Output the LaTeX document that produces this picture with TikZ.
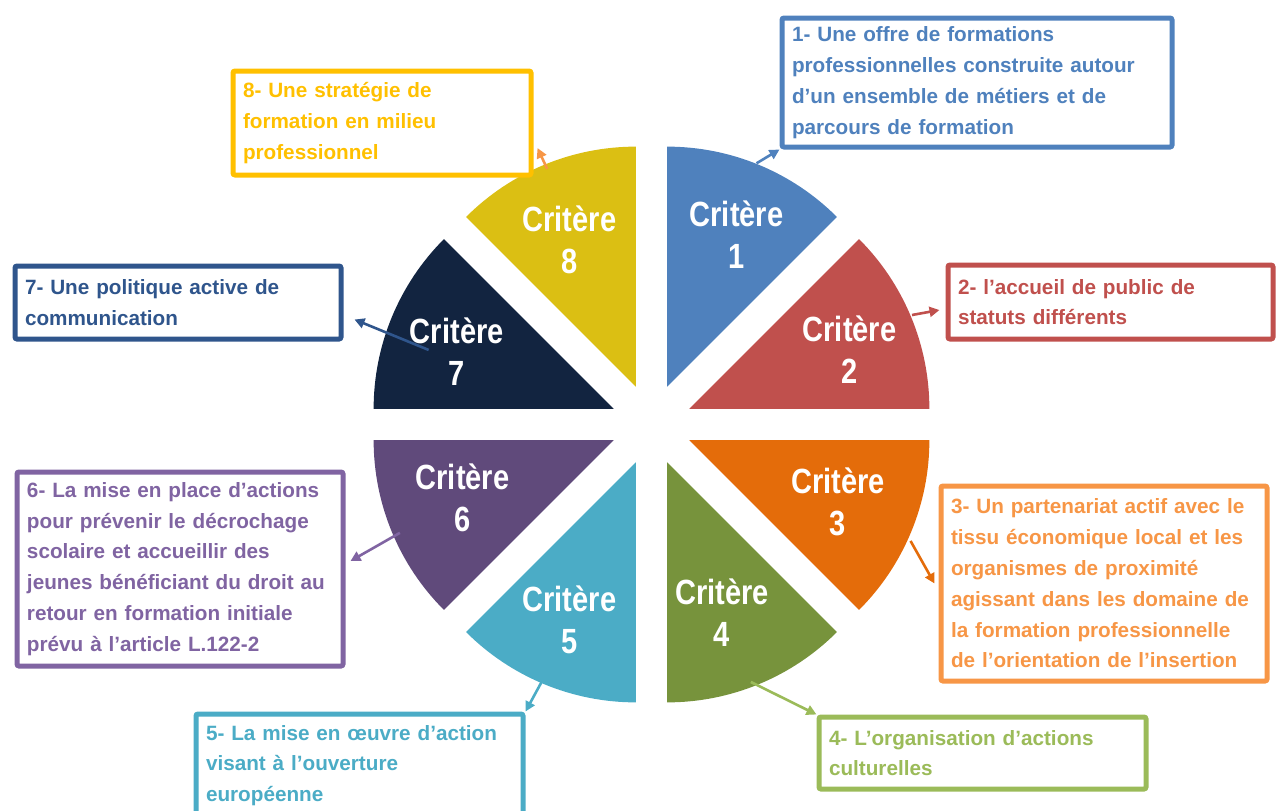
\documentclass[tikz,border=0pt]{standalone}
\usepackage{fontspec}
\setmainfont{Liberation Sans}
\newfontfamily\critfont[FakeStretch=0.83]{Liberation Sans}
\usetikzlibrary{calc,arrows.meta}
\definecolor{w1}{HTML}{4F81BD}
\definecolor{w2}{HTML}{C0504D}
\definecolor{w3}{HTML}{E46C0A}
\definecolor{w4}{HTML}{77933C}
\definecolor{w5}{HTML}{4BACC6}
\definecolor{w6}{HTML}{604A7B}
\definecolor{w7}{HTML}{122440}
\definecolor{w8}{HTML}{DBBF13}
\definecolor{k1}{HTML}{4F81BD}
\definecolor{k2}{HTML}{C0504D}
\definecolor{k3}{HTML}{F79646}
\definecolor{k4}{HTML}{9BBB59}
\definecolor{k5}{HTML}{4BACC6}
\definecolor{k6}{HTML}{8064A2}
\definecolor{k7}{HTML}{2F558C}
\definecolor{k8}{HTML}{FFC000}
\tikzset{
  crit/.style={text=white, font=\critfont\bfseries\fontsize{35}{42}\selectfont, align=center, inner sep=0pt, anchor=base},
  box/.style={draw=#1, text=#1, line width=5pt, rounded corners=2pt, fill=white,
    font=\bfseries\fontsize{20.7}{30.8}\selectfont, align=left, anchor=north west,
    inner xsep=10pt, inner ysep=0pt},
  arr/.style={draw=#1, line width=2.6pt, -{Triangle[length=10pt,width=10pt]}}
}
\begin{document}
\begin{tikzpicture}[x=1pt,y=-1pt]
\useasboundingbox (0,0) rectangle (1277,811);
\coordinate (C) at (651.5,424.5);
% wedges (image angles, clockwise on the page)
\foreach \a/\col in {-90/w1,-45/w2,0/w3,45/w4,90/w5,135/w6,180/w7,225/w8}{
  \pgfmathsetmacro\m{\a+22.5}
  \pgfmathsetmacro\e{\a+45}
  \fill[\col] ($(C)+(\m:41)$) -- ++(\a:240) arc[start angle=\a, end angle=\e, radius=240] -- cycle;
}
% labels (anchor = baseline of the last line)
\node[crit] (l1) at (736.5,268.3) {Critère\\1};
\node[crit] (l2) at (849.5,383.3) {Critère\\2};
\node[crit] (l3) at (838,535) {Critère\\3};
\node[crit] (l4) at (722,646.7) {Critère\\4};
\node[crit] (l5) at (569.4,653.3) {Critère\\5};
\node[crit] (l6) at (462.5,531.7) {Critère\\6};
\node[crit] (l7) at (456.8,385) {Critère\\7};
\node[crit] (l8) at (569.4,273) {Critère\\8};
% boxes
\node[box=k1, text width=370pt, minimum height=129pt] (b1) at (779.5,15.5)
  {1- Une offre de formations\\professionnelles construite autour\\d’un ensemble de métiers et de\\parcours de formation};
\node[box=k8, text width=278pt, minimum height=104pt] (b8) at (230.5,68.5)
  {8- Une stratégie de\\formation en milieu\\professionnel};
\node[box=k7, text width=306pt, minimum height=73pt] (b7) at (12.5,263.5)
  {7- Une politique active de\\communication};
\node[box=k2, text width=305pt, minimum height=74pt] (b2) at (945.5,262.5)
  {2- l’accueil de public de\\statuts différents};
\node[box=k6, text width=306pt, minimum height=194pt] (b6) at (14.5,469.5)
  {6- La mise en place d’actions\\pour prévenir le décrochage\\scolaire et accueillir des\\jeunes bénéficiant du droit au\\retour en formation initiale\\prévu à l’article L.122-2};
\node[box=k3, text width=306pt, minimum height=195pt] (b3) at (938.5,483.5)
  {3- Un partenariat actif avec le\\tissu économique local et les\\organismes de proximité\\agissant dans les domaine de\\la formation professionnelle\\de l’orientation de l’insertion};
\node[box=k4, text width=307pt, minimum height=72pt] (b4) at (816.5,714.5)
  {4- L’organisation d’actions\\culturelles};
\node[box=k5, text width=307pt, minimum height=103pt] (b5) at (193.5,711.5)
  {5- La mise en œuvre d’action\\visant à l’ouverture\\européenne};
% arrow start points on the wedges
\coordinate (a1) at ($(C)+(-68.1:281.5)$);
\coordinate (a2) at ($(C)+(-22.8:282.6)$);
\coordinate (a3) at ($(C)+(24.2:284)$);
\coordinate (a4) at ($(C)+(68.9:276)$);
\coordinate (a5) at ($(C)+(113.1:279)$);
\coordinate (a6) at ($(C)+(156.7:274)$);
\coordinate (a7) at ($(C)+(198.5:235)$);
\coordinate (a8) at ($(C)+(247.8:276)$);
% connectors
\draw[arr=w1] (a1) -- (b1.south west);
\draw[arr=w2] (a2) -- ($(b2.west)+(-6,8)$);
\draw[arr=w3] (a3) -- ($(b3.west)+(-4,0)$);
\draw[arr=k4] (a4) -- (b4.north west);
\draw[arr=w5] (a5) -- (b5.north east);
\draw[arr=k6] (a6) -- ($(b6.east)+(5,-8)$);
\draw[arr=k7] (a7) -- ($(b7.east)+(11,17)$);
\draw[arr=k3] (a8) -- ($(b8.east)+(4,25)$);
\end{tikzpicture}
\end{document}
